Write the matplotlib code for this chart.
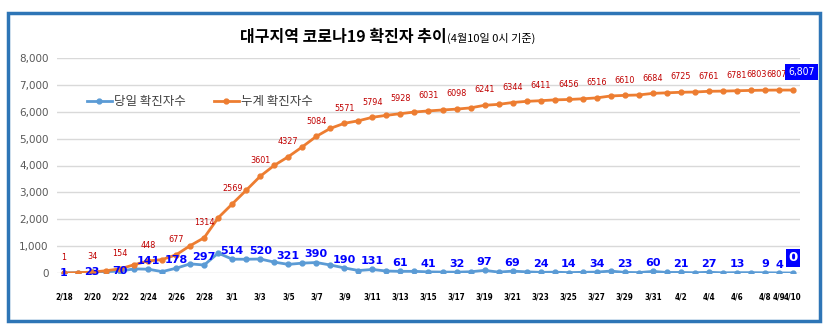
import matplotlib
matplotlib.use("Agg")
import matplotlib.pyplot as plt
from matplotlib.patches import Rectangle

plt.rcParams['font.family'] = ['Noto Sans CJK KR', 'DejaVu Sans']

# ======= DATOS =======
dates = ["2/18", "2/19", "2/20", "2/21", "2/22", "2/23", "2/24", "2/25", "2/26", "2/27", "2/28", "2/29",
         "3/1", "3/2", "3/3", "3/4", "3/5", "3/6", "3/7", "3/8", "3/9", "3/10", "3/11", "3/12", "3/13",
         "3/14", "3/15", "3/16", "3/17", "3/18", "3/19", "3/20", "3/21", "3/22", "3/23", "3/24", "3/25",
         "3/26", "3/27", "3/28", "3/29", "3/30", "3/31", "4/1", "4/2", "4/3", "4/4", "4/5", "4/6", "4/7",
         "4/8", "4/9", "4/10"]
daily = [1, 10, 23, 50, 70, 153, 141, 51, 178, 340, 297, 741,
         514, 512, 520, 405, 321, 367, 390, 297, 190, 92, 131, 73, 61,
         62, 41, 35, 32, 46, 97, 34, 69, 43, 24, 31, 14,
         26, 34, 71, 23, 14, 60, 20, 21, 9, 27, 7, 13, 13,
         9, 4, 0]
cumul = [1, 11, 34, 84, 154, 307, 448, 499, 677, 1017, 1314, 2055,
         2569, 3081, 3601, 4006, 4327, 4694, 5084, 5381, 5571, 5663, 5794, 5867, 5928,
         5990, 6031, 6066, 6098, 6144, 6241, 6275, 6344, 6387, 6411, 6442, 6456,
         6482, 6516, 6587, 6610, 6624, 6684, 6704, 6725, 6734, 6761, 6768, 6781, 6794,
         6803, 6807, 6807]
# indices con etiqueta (cada dos dias + 4/9)
label_idx = list(range(0, 51, 2)) + [51]
tick_idx = list(range(0, 51, 2)) + [51, 52]
# =====================

BLUE = "#5B9BD5"
ORANGE = "#ED7D31"
NARROW = dict(family=['DejaVu Sans'], fontstretch="condensed")

fig = plt.figure(figsize=(8.28, 3.35), dpi=100)
ax = fig.add_axes([57/828, 1-273/335, 743/828, 215/335])

x = list(range(len(dates)))
ax.plot(x, daily, color=BLUE, lw=2, marker="o", ms=3.5, label="당일 확진자수", zorder=3)
ax.plot(x, cumul, color=ORANGE, lw=2, marker="o", ms=3.5, label="누계 확진자수", zorder=3)

ax.set_xlim(-0.5, 52.5)
ax.set_ylim(0, 8000)
ax.set_yticks(range(0, 8001, 1000))
ax.set_yticklabels([f"{v:,}" for v in range(0, 8001, 1000)], fontsize=7.5, color="#595959", family=['DejaVu Sans'])
ax.grid(axis="y", color="#D9D9D9", lw=1)
ax.set_axisbelow(True)
for s in ax.spines.values():
    s.set_visible(False)
ax.tick_params(length=0, pad=6)
ax.set_xticks(tick_idx)
ax.set_xticklabels([dates[i] for i in tick_idx], fontsize=5.8, fontweight="bold",
                   color="#000000", **NARROW)
ax.tick_params(axis="x", pad=14)

last = len(dates) - 1
for i in label_idx:
    dx = {last - 2: -6, last - 1: -2}.get(i, 0)
    ax.annotate(f"{cumul[i]}", (i, cumul[i]), xytext=(dx, 11), textcoords="offset points",
                ha="center", va="center", fontsize=6.5, color="#C00000", **NARROW)
    dy = 0 if i < 5 else 6
    ax.annotate(f"{daily[i]}", (i, daily[i]), xytext=(0, dy), textcoords="offset points",
                ha="center", va="center", fontsize=8, fontweight="bold", color="#0000FF",
                family=['DejaVu Sans'], zorder=4)

ax.annotate(f"{cumul[last]:,}", (last, cumul[last]), xytext=(6, 13), textcoords="offset points",
            ha="center", va="center", fontsize=7.5, color="white", **NARROW,
            bbox=dict(boxstyle="square,pad=0.3", fc="#0000FF", ec="none"), annotation_clip=False)
ax.annotate(f"{daily[last]}", (last, daily[last]), xytext=(0, 11), textcoords="offset points",
            ha="center", va="center", fontsize=9.5, fontweight="bold", color="white",
            family=['DejaVu Sans'],
            bbox=dict(boxstyle="square,pad=0.2", fc="#0000FF", ec="none"), annotation_clip=False)

ax.legend(loc="upper left", bbox_to_anchor=(0.025, 0.88), ncol=2, frameon=False, fontsize=9,
          columnspacing=2.2, handlelength=2.0, handletextpad=0.2, labelcolor="#404040")

fig.text(447/828, 1-37/335, "대구지역 코로나19 확진자 추이", ha="right", va="center",
         fontsize=11.5, fontweight="bold", color="#000000")
fig.text(447/828, 1-38/335, "(4월10일 0시 기준)", ha="left", va="center",
         fontsize=8, color="#000000")

fig.patches.append(Rectangle((8/828, 1-321/335), 812/828, 308/335, transform=fig.transFigure,
                             fill=False, ec="#2E75B6", lw=2.5))

fig.savefig("out.png", dpi=100)
